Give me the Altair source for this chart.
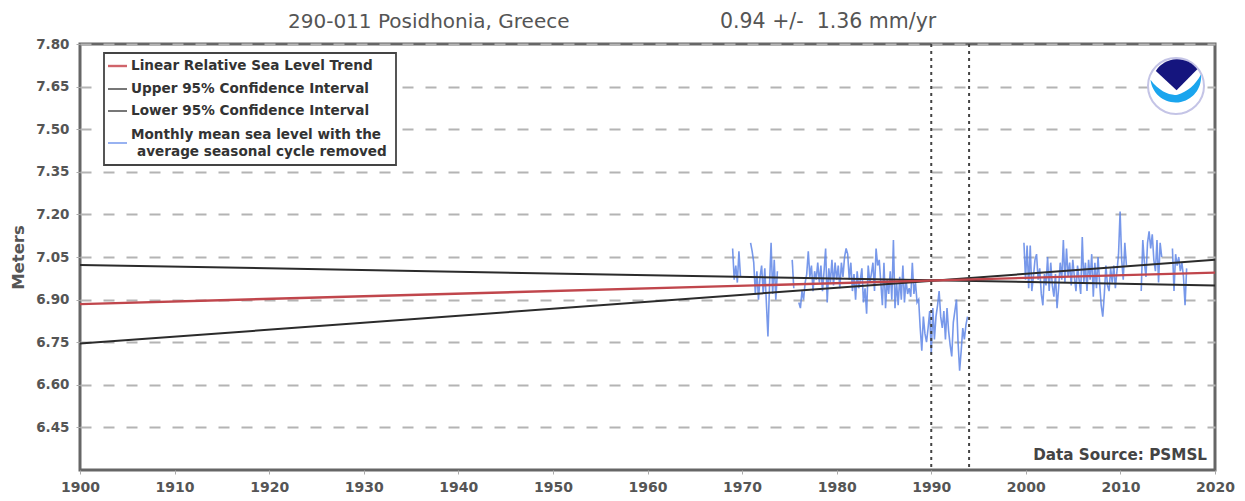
import altair as alt
import pandas as pd

# ---- data ----
segment_starts = [1969.0, 1970.9, 1975.3, 1976.0, 1999.8, 2012.2, 2015.5]
segment_step = 1 / 6
segments = [
    [7.08, 6.97, 7.02, 6.96, 7.07, 6.98],
    [7.10, 7.07, 7.03, 6.92, 7.00, 6.90, 6.98, 7.02, 6.92, 7.01, 6.89, 6.77, 6.95, 7.10, 6.92, 7.04, 6.90, 7.00],
    [7.04, 6.94],
    [6.89, 6.87, 6.93, 6.90, 6.96, 6.99, 7.07, 6.98, 7.02, 6.93,
     7.00, 6.97, 7.03, 6.96, 7.02, 6.93, 7.00, 7.08, 6.89, 7.01,
     6.96, 7.04, 6.95, 7.03, 6.97, 7.02, 6.94, 7.03, 6.98, 7.05,
     7.08, 7.06, 6.97, 7.03, 6.93, 6.99, 6.90, 7.00, 6.94, 6.97,
     7.01, 6.89, 6.94, 6.85, 7.02, 6.96, 6.99, 7.03, 6.93, 7.08,
     7.02, 7.04, 6.96, 6.88, 7.03, 6.87, 6.97, 6.92, 7.00, 6.90,
     7.11, 6.87, 6.96, 6.88, 6.98, 6.90, 7.02, 6.89, 6.97, 6.92,
     6.94, 6.91, 7.03, 6.92, 6.96, 6.89, 6.90, 6.80, 6.72, 6.84,
     6.78, 6.75, 6.80, 6.86, 6.71, 6.87, 6.76, 6.84, 6.88, 6.93,
     6.84, 6.80, 6.86, 6.76, 6.87, 6.79, 6.74, 6.70, 6.82, 6.86,
     6.90, 6.75, 6.65, 6.72, 6.80, 6.76, 6.81, 6.84],
    [7.10, 6.97, 7.09, 6.94, 7.09, 6.93, 6.98, 7.04, 7.06, 6.97,
     7.01, 6.92, 6.88, 6.99, 6.95, 7.05, 6.93, 7.03, 6.95, 6.91,
     6.99, 6.87, 6.94, 7.03, 6.97, 7.11, 6.96, 7.08, 6.98, 7.03,
     6.95, 7.04, 6.98, 6.93, 7.02, 6.97, 6.92, 7.12, 6.96, 7.03,
     6.93, 7.04, 6.97, 7.06, 6.91, 7.03, 6.94, 7.05, 6.96, 6.88,
     6.84, 6.92, 7.02, 6.95, 6.93, 7.01, 6.96, 7.02, 6.94, 7.00,
     7.06, 7.21, 7.04, 6.97, 7.10, 7.02],
    [6.93, 7.11, 7.03, 6.98, 7.10, 7.14, 7.08, 7.13, 7.04, 7.00, 7.11, 6.96, 7.10, 7.05],
    [7.08, 6.93, 7.06, 7.02, 7.05, 7.00, 7.03, 6.98, 6.88, 7.01],
]
line_years = [1900, 2020]
trend = [6.884, 6.995]
upper = [6.745, 7.04]
lower = [7.022, 6.95]
event_years = [1990, 1994]
y_ticks = [6.45, 6.60, 6.75, 6.90, 7.05, 7.20, 7.35, 7.50, 7.65, 7.80]
x_ticks = [1900, 1910, 1920, 1930, 1940, 1950, 1960, 1970, 1980, 1990, 2000, 2010, 2020]
title_left = "290-011 Posidhonia, Greece"
title_right = "0.94 +/-\u00a0 1.36 mm/yr"
source_text = "Data Source: PSMSL"
y_title = "Meters"
legend_labels = [
    "Linear Relative Sea Level Trend",
    "Upper 95% Confidence Interval",
    "Lower 95% Confidence Interval",
    "Monthly mean sea level with the",
    "average seasonal cycle removed",
]

W, H = 1135, 426
FONT = "DejaVu Sans"
TXT = "#555555"

rows = []
for s, (start, vals) in enumerate(zip(segment_starts, segments)):
    for i, v in enumerate(vals):
        rows.append({"year": start + i * segment_step, "level": v, "seg": s})
monthly = pd.DataFrame(rows)
lines = pd.DataFrame({"year": line_years * 3,
                      "level": trend + upper + lower,
                      "name": ["t", "t", "u", "u", "l", "l"]})

xs = alt.Scale(domain=[1900, 2020], nice=False, zero=False)
ys = alt.Scale(domain=[6.3, 7.8], nice=False, zero=False)
x_axis = alt.Axis(values=x_ticks, format="d", title=None, grid=False, domain=False,
                  labelFont=FONT, labelFontSize=14, labelFontWeight="bold", labelColor=TXT,
                  tickColor="#aaaaaa", tickSize=4, labelPadding=6, labelFlush=False)
y_axis = alt.Axis(values=y_ticks, format=".2f", title=y_title, grid=True, domain=False,
                  gridColor="#b4b4b4", gridWidth=2, gridDash=[11, 12],
                  labelFont=FONT, labelFontSize=13.5, labelFontWeight="bold", labelColor=TXT,
                  tickColor="#aaaaaa", tickSize=4, labelPadding=7,
                  titleFont=FONT, titleFontSize=16.5, titleFontWeight="bold", titleColor=TXT,
                  titlePadding=9)

base = alt.Chart(monthly).mark_line(color="#5f86e6", strokeWidth=1.6, opacity=0.85, interpolate="linear").encode(
    x=alt.X("year:Q", scale=xs, axis=x_axis),
    y=alt.Y("level:Q", scale=ys, axis=y_axis),
    detail="seg:N",
)
ci = alt.Chart(lines[lines.name != "t"]).mark_line(color="#2b2b2b", strokeWidth=2).encode(
    x=alt.X("year:Q", scale=xs), y=alt.Y("level:Q", scale=ys), detail="name:N")
red = alt.Chart(lines[lines.name == "t"]).mark_line(color="#c0464c", strokeWidth=2.4).encode(
    x=alt.X("year:Q", scale=xs), y=alt.Y("level:Q", scale=ys))
events = alt.Chart(pd.DataFrame({"year": event_years})).mark_rule(
    color="#444444", strokeWidth=2, strokeDash=[3, 4]).encode(x=alt.X("year:Q", scale=xs))


def txt(s, x, y, size, align="left", weight="normal", color=TXT):
    kw = dict(align=align, baseline="middle", font=FONT, fontSize=size, fontWeight=weight, color=color)
    return alt.Chart(pd.DataFrame({"t": [s]})).mark_text(**kw).encode(
        x=alt.value(x), y=alt.value(y), text="t:N")


def seg(x1, x2, y, color, width):
    return alt.Chart(pd.DataFrame({"a": [0]})).mark_rule(color=color, strokeWidth=width).encode(
        x=alt.value(x1), x2=alt.value(x2), y=alt.value(y))


legend_box = alt.Chart(pd.DataFrame({"a": [0]})).mark_rect(
    fill="white", stroke="#444444", strokeWidth=1.8).encode(
    x=alt.value(24), x2=alt.value(316), y=alt.value(9), y2=alt.value(121))
legend_items = [legend_box,
                seg(28, 47, 22, "#d0646a", 2.4),
                seg(28, 47, 45, "#555555", 1.6),
                seg(28, 47, 67, "#555555", 1.6),
                seg(28, 47, 99, "#7f9fee", 1.6)]
for label, xx, yy in zip(legend_labels, [51, 51, 51, 51, 57], [22, 45, 67, 91, 108]):
    legend_items.append(txt(label, xx, yy, 13.6, weight="bold", color="#333333"))


def logo(path, fill, stroke=None):
    kw = dict(shape=path, size=3136, filled=True, fill=fill, opacity=1)
    if stroke:
        kw.update(stroke=stroke, strokeWidth=2)
    else:
        kw.update(strokeWidth=0)
    return alt.Chart(pd.DataFrame({"a": [0]})).mark_point(**kw).encode(
        x=alt.value(1096), y=alt.value(42))


logo_parts = [
    logo("circle", "white", "#c4c4e6"),
    logo("M-0.72,-0.54 A0.91,0.91 0 0 1 0.76,-0.6 L0.02,0.15 Z", "#15157e"),
    logo("M-0.91,-0.22 C-0.6,0.2 -0.2,0.36 0.05,0.31 C0.4,0.22 0.7,-0.05 0.89,-0.41 "
         "A0.9,0.9 0 1 1 -0.91,-0.22 Z", "#1aa5ee"),
]

texts = [
    txt(title_left, 208, -22, 20, color="#555555"),
    txt(title_right, 640, -22, 20.5, color="#555555"),
    txt(source_text, 1127, 411, 15.2, align="right", weight="bold", color="#444444"),
]

chart = alt.layer(base, ci, red, events, *legend_items, *logo_parts, *texts).properties(
    width=W, height=H,
    autosize=alt.AutoSizeParams(type="none"),
    padding={"left": 72, "top": 36, "right": 22, "bottom": 23},
    background="white",
).configure_view(stroke="#666666", strokeWidth=3)

chart.save("out.html", embed_options={"renderer": "svg", "actions": False})
